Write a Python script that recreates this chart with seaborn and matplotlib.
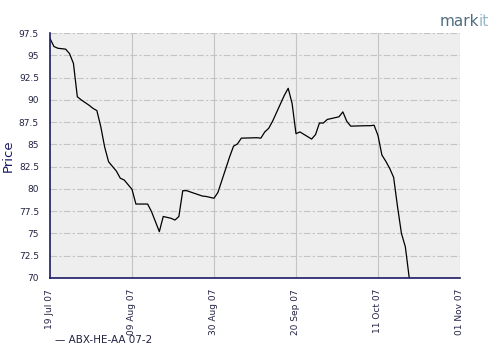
import matplotlib
matplotlib.use("Agg")
import matplotlib.pyplot as plt
import matplotlib.dates as mdates
import seaborn as sns
import pandas as pd
import numpy as np

dates = ["2007-07-19", "2007-07-20", "2007-07-21", "2007-07-23", "2007-07-24", "2007-07-25",
         "2007-07-26", "2007-07-27", "2007-07-29", "2007-07-30", "2007-07-31", "2007-08-01",
         "2007-08-02", "2007-08-03", "2007-08-05", "2007-08-06", "2007-08-07", "2007-08-09",
         "2007-08-10", "2007-08-13", "2007-08-14", "2007-08-16", "2007-08-17", "2007-08-19",
         "2007-08-20", "2007-08-21", "2007-08-22", "2007-08-23", "2007-08-27", "2007-08-28",
         "2007-08-30", "2007-08-31", "2007-09-03", "2007-09-04", "2007-09-05", "2007-09-06",
         "2007-09-10", "2007-09-11", "2007-09-12", "2007-09-13", "2007-09-14", "2007-09-17",
         "2007-09-18", "2007-09-19", "2007-09-20", "2007-09-21", "2007-09-24", "2007-09-25",
         "2007-09-26", "2007-09-27", "2007-09-28", "2007-10-01", "2007-10-02", "2007-10-03",
         "2007-10-04", "2007-10-08", "2007-10-09", "2007-10-10", "2007-10-11", "2007-10-12",
         "2007-10-13", "2007-10-14", "2007-10-15", "2007-10-16", "2007-10-17", "2007-10-18",
         "2007-10-19"]
prices = [96.9, 96.0, 95.8, 95.7, 95.2, 94.1,
          90.35, 90.0, 89.4, 89.05, 88.8, 87.0,
          84.7, 83.05, 82.0, 81.2, 81.0, 79.95,
          78.3, 78.3, 77.45, 75.2, 76.9, 76.7,
          76.5, 76.9, 79.8, 79.8, 79.2, 79.15,
          78.95, 79.6, 83.6, 84.8, 85.05, 85.7,
          85.75, 85.7, 86.4, 86.8, 87.6, 90.5,
          91.3, 89.6, 86.2, 86.4, 85.6, 86.1,
          87.4, 87.4, 87.8, 88.1, 88.65, 87.6,
          87.05, 87.1, 87.1, 87.15, 86.0, 83.8,
          83.1, 82.3, 81.3, 78.0, 75.0, 73.5,
          70.0]
series_name = "ABX-HE-AA 07-2"
x_ticks = ["2007-07-19", "2007-08-09", "2007-08-30", "2007-09-20", "2007-10-11", "2007-11-01"]
y_ticks = [70, 72.5, 75, 77.5, 80, 82.5, 85, 87.5, 90, 92.5, 95, 97.5]

df = pd.DataFrame({"Date": pd.to_datetime(dates), "Price": prices, "Series": series_name})

sns.set_style("white")
plt.rcParams["font.family"] = ["DejaVu Sans"]
navy = "#1a1a66"

fig = plt.figure(figsize=(5, 3.6), dpi=100)
ax = fig.add_axes([0.1, 0.228, 0.82, 0.68])
ax.set_facecolor("#eeeeee")

sns.lineplot(data=df, x="Date", y="Price", color="black", lw=0.9, ax=ax, legend=False)

ax.set_xlim(pd.Timestamp(x_ticks[0]), pd.Timestamp(x_ticks[-1]))
ax.set_ylim(y_ticks[0], y_ticks[-1])
ax.set_xticks(pd.to_datetime(x_ticks))
ax.xaxis.set_major_formatter(mdates.DateFormatter("%d %b %y"))
ax.set_yticks(y_ticks)
ax.set_yticklabels(["%g" % v for v in y_ticks])

ax.grid(False)
for v in y_ticks[1:]:
    ax.axhline(v, color="#c4c4c4", lw=0.8, ls=(0, (6, 2, 2, 2)), zorder=0)
for d in x_ticks[1:]:
    ax.axvline(pd.Timestamp(d), color="#c4c4c4", lw=0.8, zorder=0)

for s in ["top", "right"]:
    ax.spines[s].set_visible(False)
for s in ["left", "bottom"]:
    ax.spines[s].set_color(navy)
    ax.spines[s].set_linewidth(1.2)

ax.tick_params(axis="both", colors=navy, labelsize=6.5, length=4, width=1, direction="out")
ax.tick_params(axis="y", pad=4)
ax.tick_params(axis="x", labelrotation=90, pad=4)
for lab in ax.get_xticklabels() + ax.get_yticklabels():
    lab.set_color("#222244")

ax.set_xlabel("")
ax.set_ylabel("Price", color=navy, fontsize=9.5, va="center", ha="center")
ax.yaxis.set_label_coords(-0.102, 0.5)

fig.text(0.11, 0.055, "\u2014 " + series_name, fontsize=7.5, color="#222244", va="center", ha="left")
fig.text(0.958, 0.94, "mark", fontsize=11, color="#4e6e80", ha="right", va="center")
fig.text(0.958, 0.94, "it", fontsize=11, color="#9ab8c6", ha="left", va="center")

fig.savefig("out.png", dpi=100)
